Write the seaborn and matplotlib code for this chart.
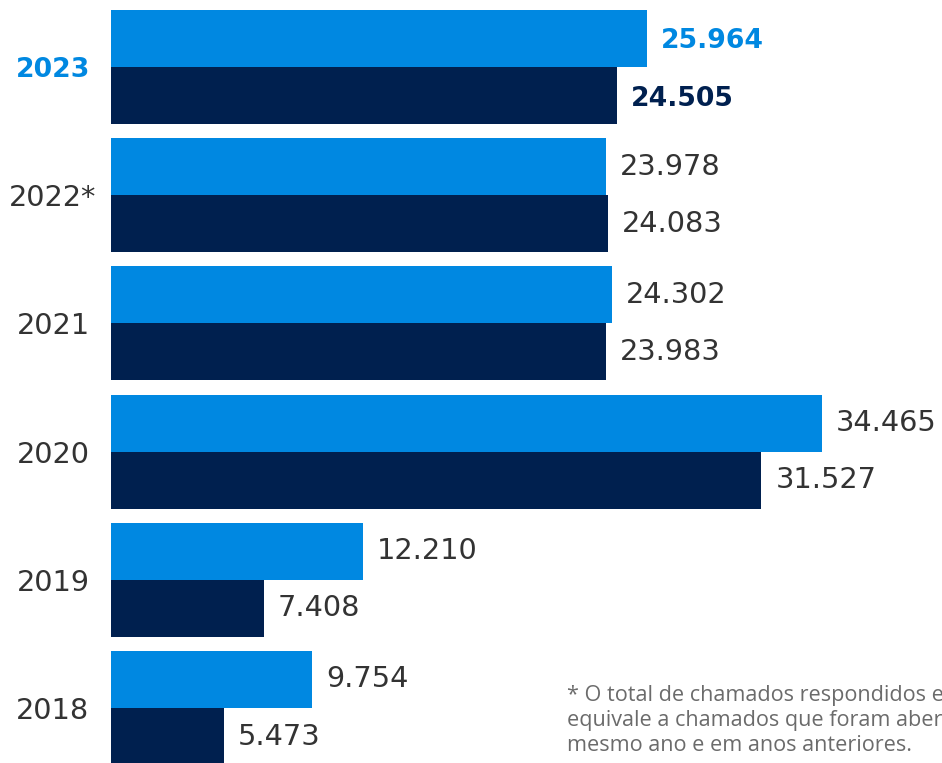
import matplotlib
matplotlib.use("Agg")
import matplotlib.pyplot as plt
import seaborn as sns
import pandas as pd

years = ["2023", "2022*", "2021", "2020", "2019", "2018"]
abertos = [25964, 23978, 24302, 34465, 12210, 9754]
respondidos = [24505, 24083, 23983, 31527, 7408, 5473]
series_names = ["Abertos", "Respondidos"]
footnote_lines = [
    "* O total de chamados respondidos em 2022",
    "equivale a chamados que foram abertos no",
    "mesmo ano e em anos anteriores.",
]

LIGHT = "#0088E1"
DARK = "#00204F"
TEXT = "#333333"

sns.set_theme(style="white")
plt.rcParams["font.family"] = ["DejaVu Sans"]

df = pd.DataFrame({
    "ano": years * 2,
    "valor": abertos + respondidos,
    "serie": [series_names[0]] * len(years) + [series_names[1]] * len(years),
})

W, H = 942, 763
fig = plt.figure(figsize=(W / 100, H / 100), dpi=100)
ax = fig.add_axes([111 / W, 0, 1 - 111 / W, 1])

sns.barplot(data=df, y="ano", x="valor", hue="serie", order=years,
            hue_order=series_names, palette=[LIGHT, DARK], orient="h",
            width=0.89, linewidth=0, saturation=1, legend=False, ax=ax)

px_per_unit = 711 / 34465
ax.set_xlim(0, (W - 111) / px_per_unit)
unit = 128.2
ax.set_ylim((H - 67) / unit, -67 / unit)

def fmt(v):
    return f"{v:,}".replace(",", ".")

for cont, vals, col in zip(ax.containers, [abertos, respondidos], [LIGHT, DARK]):
    texts = ax.bar_label(cont, labels=[fmt(v) for v in vals], padding=10,
                         fontsize=20.7, color=TEXT)
    texts[0].set_fontweight("bold")
    texts[0].set_fontsize(19.2)
    texts[0].set_color(col)
    texts[0].set_va("center_baseline")

for s in ax.spines.values():
    s.set_visible(False)
ax.set_xticks([])
ax.set_xlabel("")
ax.set_ylabel("")
ax.tick_params(axis="y", length=0, pad=41.8)
for i, lab in enumerate(ax.get_yticklabels()):
    lab.set_ha("center")
    lab.set_fontsize(20.7)
    lab.set_color(TEXT)
    if i == 0:
        lab.set_fontweight("bold")
        lab.set_fontsize(19.2)
        lab.set_color(LIGHT)

for i, line in enumerate(footnote_lines):
    fig.text(567 / W, 1 - (701 + 25 * i) / H, line, fontsize=15.6,
             family=["Open Sans", "DejaVu Sans"], color="#6b6b6b",
             va="baseline", ha="left")

fig.savefig("out.png", dpi=100)
